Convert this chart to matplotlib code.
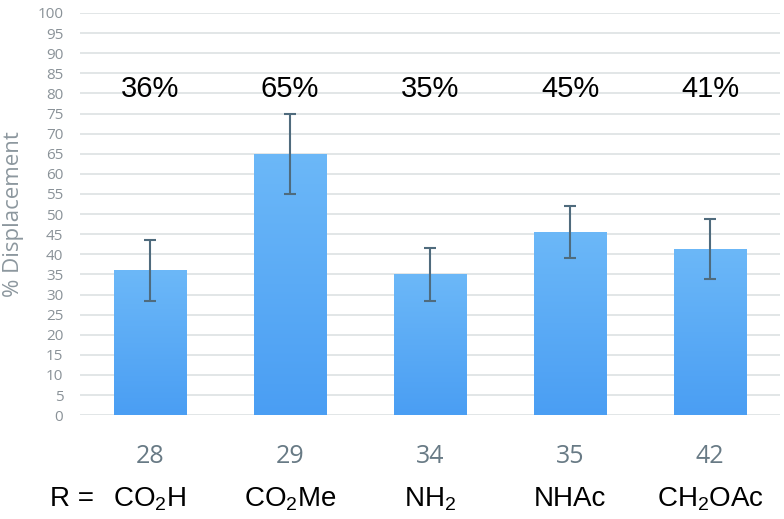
import numpy as np
import matplotlib.pyplot as plt

compounds = ["28", "29", "34", "35", "42"]
r_groups = ["CO$_2$H", "CO$_2$Me", "NH$_2$", "NHAc", "CH$_2$OAc"]
displacement = [36, 65, 35, 45.5, 41.3]
errors = [7.5, 10, 6.5, 6.5, 7.5]
pct_labels = ["36%", "65%", "35%", "45%", "41%"]

plt.rcParams["mathtext.fontset"] = "custom"
plt.rcParams["mathtext.rm"] = "Liberation Sans"
plt.rcParams["mathtext.it"] = "Liberation Sans"

fig = plt.figure(figsize=(7.84, 5.19), dpi=100)
ax = fig.add_axes([0.102, 0.2, 0.893, 0.775])

x = np.arange(len(compounds))
bars = ax.bar(x, displacement, width=0.52, color="#58aaf5", zorder=2)

# vertical gradient on each bar (lighter at top)
grad = np.linspace(0, 1, 256).reshape(-1, 1)
cmap = plt.matplotlib.colors.LinearSegmentedColormap.from_list(
    "bar", ["#4a9ef3", "#6cb8f8"])
for b in bars:
    im = ax.imshow(grad, cmap=cmap, aspect="auto", origin="lower",
                   extent=[b.get_x(), b.get_x() + b.get_width(), 0, b.get_height()],
                   zorder=2)
    im.set_clip_path(b)

ax.errorbar(x, displacement, yerr=errors, fmt="none", ecolor="#4f6b7d",
            elinewidth=1.5, capsize=4, capthick=1.5, zorder=3)

for xi, lab in zip(x, pct_labels):
    ax.text(xi, 79.1, lab, ha="center", va="baseline", fontsize=21,
            family="Liberation Sans", color="black")

ax.set_xlim(-0.5, 4.5)
ax.set_ylim(0, 100)
ax.set_yticks(np.arange(0, 101, 5))
ax.yaxis.grid(True, color="#dde1e3", linewidth=1.2, zorder=0)
ax.set_axisbelow(True)
for s in ax.spines.values():
    s.set_visible(False)
ax.tick_params(axis="y", length=0, labelsize=11, labelcolor="#8a9298", pad=12)
ax.tick_params(axis="x", length=0, pad=21)
ax.set_xticks(x)
ax.set_xticklabels(compounds, fontsize=18, color="#687a85", family="Open Sans")
for lab in ax.get_yticklabels():
    lab.set_family("Open Sans")

ax.set_ylabel("% Displacement", fontsize=16, color="#8c979e", family="Open Sans")
ax.yaxis.set_label_coords(-0.08, 0.5)

# substituent row under the compound numbers
for xi, lab in zip(x, r_groups):
    ax.text(xi, -22.6, lab, ha="center", va="baseline", fontsize=20,
            family="Liberation Sans", color="black")
ax.text(-0.56, -22.6, "R =", ha="center", va="baseline", fontsize=20,
        family="Liberation Sans", color="black")

fig.savefig("out.png", dpi=100)
